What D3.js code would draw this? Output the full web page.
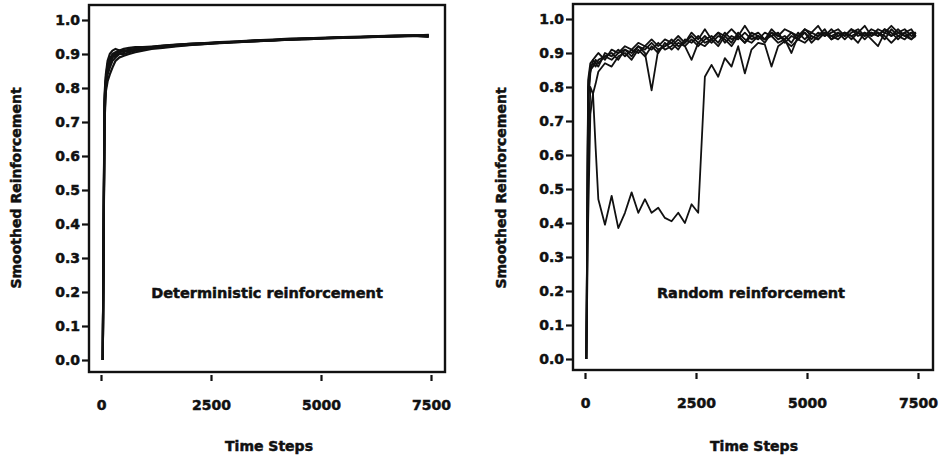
<!DOCTYPE html>
<html>
<head>
<meta charset="utf-8">
<script src="https://cdn.jsdelivr.net/npm/d3@7"></script>
<style>
  html, body { margin: 0; padding: 0; background: #fff; }
  svg { display: block; }
  text { font-family: "DejaVu Sans", sans-serif; font-weight: bold; fill: #111; stroke: #111; stroke-width: 0.5px; }
</style>
</head>
<body>
<svg id="chart" width="941" height="462"></svg>
<script>
// ---------- DATA ----------
const yTicks = [0, 0.1, 0.2, 0.3, 0.4, 0.5, 0.6, 0.7, 0.8, 0.9, 1.0];
const xTicks = [0, 2500, 5000, 7500];
const yLabel = "Smoothed Reinforcement";
const xLabel = "Time Steps";
const leftTitle = "Deterministic reinforcement";
const rightTitle = "Random reinforcement";

// Left panel (deterministic) time steps and series
const leftTime = [40, 80, 110, 150, 200, 260, 330, 420, 520, 640, 780, 950, 1150, 1400, 1700, 2000, 2350, 2700, 3100, 3500, 3900, 4300, 4700, 5100, 5500, 5900, 6300, 6700, 7100, 7450];
const leftS1 = [0, 0.78, 0.84, 0.88, 0.90, 0.91, 0.915, 0.91, 0.915, 0.918, 0.92, 0.92, 0.922, 0.925, 0.928, 0.93, 0.932, 0.935, 0.937, 0.94, 0.942, 0.945, 0.946, 0.948, 0.95, 0.951, 0.952, 0.954, 0.955, 0.955];
const leftS2 = [0, 0.74, 0.82, 0.86, 0.88, 0.90, 0.905, 0.91, 0.905, 0.915, 0.912, 0.918, 0.92, 0.922, 0.925, 0.928, 0.93, 0.934, 0.936, 0.938, 0.94, 0.943, 0.945, 0.947, 0.948, 0.95, 0.951, 0.952, 0.954, 0.952];
const leftS3 = [0, 0.70, 0.79, 0.82, 0.84, 0.86, 0.88, 0.89, 0.895, 0.90, 0.905, 0.91, 0.915, 0.918, 0.922, 0.926, 0.93, 0.932, 0.935, 0.937, 0.94, 0.942, 0.944, 0.946, 0.948, 0.949, 0.95, 0.952, 0.953, 0.95];
const leftS4 = [0, 0.76, 0.83, 0.87, 0.89, 0.895, 0.90, 0.905, 0.91, 0.91, 0.915, 0.915, 0.92, 0.924, 0.926, 0.93, 0.931, 0.934, 0.936, 0.939, 0.941, 0.943, 0.945, 0.947, 0.949, 0.95, 0.952, 0.953, 0.954, 0.956];
const leftS5 = [0, 0.72, 0.80, 0.84, 0.86, 0.88, 0.89, 0.90, 0.90, 0.905, 0.91, 0.912, 0.918, 0.92, 0.924, 0.927, 0.929, 0.933, 0.935, 0.938, 0.94, 0.942, 0.944, 0.946, 0.947, 0.949, 0.951, 0.952, 0.953, 0.954];
const leftS6 = [0, 0.75, 0.82, 0.85, 0.87, 0.89, 0.895, 0.905, 0.91, 0.908, 0.915, 0.917, 0.919, 0.923, 0.927, 0.929, 0.932, 0.933, 0.936, 0.94, 0.941, 0.944, 0.946, 0.947, 0.95, 0.95, 0.953, 0.954, 0.955, 0.953];

// Right panel (random) time steps and series
const rightTime = [30, 70, 120, 180, 240, 300, 450, 600, 750, 900, 1050, 1200, 1350, 1500, 1650, 1800, 1950, 2100, 2250, 2400, 2550, 2700, 2850, 3000, 3150, 3300, 3450, 3600, 3750, 3900, 4050, 4200, 4350, 4500, 4650, 4800, 4950, 5100, 5250, 5400, 5550, 5700, 5850, 6000, 6150, 6300, 6450, 6600, 6750, 6900, 7050, 7200, 7350, 7450];
const rightS1 = [0, 0.80, 0.86, 0.87, 0.86, 0.88, 0.89, 0.90, 0.88, 0.91, 0.90, 0.92, 0.90, 0.79, 0.91, 0.92, 0.93, 0.91, 0.94, 0.93, 0.95, 0.93, 0.94, 0.96, 0.93, 0.95, 0.94, 0.96, 0.94, 0.95, 0.93, 0.96, 0.95, 0.94, 0.96, 0.95, 0.97, 0.95, 0.94, 0.96, 0.95, 0.96, 0.94, 0.96, 0.97, 0.95, 0.96, 0.95, 0.97, 0.96, 0.94, 0.96, 0.97, 0.95];
const rightS2 = [0, 0.75, 0.84, 0.88, 0.87, 0.86, 0.90, 0.89, 0.91, 0.89, 0.91, 0.90, 0.92, 0.91, 0.93, 0.91, 0.92, 0.94, 0.92, 0.88, 0.93, 0.95, 0.93, 0.95, 0.94, 0.92, 0.95, 0.93, 0.96, 0.95, 0.94, 0.96, 0.94, 0.95, 0.93, 0.96, 0.94, 0.96, 0.95, 0.97, 0.94, 0.96, 0.95, 0.97, 0.95, 0.96, 0.94, 0.92, 0.96, 0.95, 0.97, 0.95, 0.96, 0.96];
const rightS3 = [0, 0.40, 0.72, 0.78, 0.81, 0.845, 0.87, 0.86, 0.89, 0.90, 0.88, 0.91, 0.89, 0.92, 0.90, 0.93, 0.91, 0.93, 0.92, 0.94, 0.92, 0.94, 0.95, 0.93, 0.96, 0.94, 0.95, 0.93, 0.95, 0.94, 0.96, 0.95, 0.93, 0.94, 0.90, 0.95, 0.96, 0.94, 0.96, 0.95, 0.97, 0.95, 0.96, 0.94, 0.96, 0.95, 0.97, 0.96, 0.94, 0.97, 0.95, 0.96, 0.94, 0.96];
const rightS4 = [0, 0.82, 0.87, 0.88, 0.89, 0.90, 0.88, 0.91, 0.90, 0.92, 0.91, 0.93, 0.92, 0.94, 0.92, 0.94, 0.93, 0.95, 0.93, 0.96, 0.94, 0.97, 0.94, 0.96, 0.95, 0.97, 0.95, 0.98, 0.95, 0.96, 0.94, 0.97, 0.95, 0.97, 0.96, 0.94, 0.97, 0.96, 0.98, 0.95, 0.96, 0.97, 0.95, 0.97, 0.96, 0.98, 0.95, 0.97, 0.96, 0.98, 0.96, 0.97, 0.95, 0.96];
const rightS5 = [0, 0.78, 0.85, 0.86, 0.88, 0.87, 0.89, 0.88, 0.90, 0.91, 0.89, 0.92, 0.91, 0.93, 0.91, 0.92, 0.94, 0.92, 0.93, 0.95, 0.93, 0.92, 0.94, 0.92, 0.95, 0.93, 0.96, 0.94, 0.93, 0.95, 0.94, 0.95, 0.96, 0.93, 0.95, 0.94, 0.96, 0.93, 0.95, 0.96, 0.94, 0.95, 0.96, 0.95, 0.93, 0.96, 0.95, 0.96, 0.95, 0.93, 0.95, 0.94, 0.96, 0.95];
const rightS6 = [0, 0.55, 0.80, 0.78, 0.62, 0.47, 0.395, 0.48, 0.385, 0.43, 0.49, 0.43, 0.47, 0.43, 0.445, 0.415, 0.405, 0.43, 0.40, 0.455, 0.43, 0.83, 0.865, 0.83, 0.885, 0.86, 0.92, 0.84, 0.91, 0.93, 0.925, 0.86, 0.92, 0.935, 0.92, 0.94, 0.93, 0.95, 0.94, 0.96, 0.95, 0.94, 0.96, 0.95, 0.96, 0.94, 0.96, 0.95, 0.97, 0.95, 0.96, 0.95, 0.94, 0.95];

const leftSeries = [leftS1, leftS2, leftS3, leftS4, leftS5, leftS6];
const rightSeries = [rightS1, rightS2, rightS3, rightS4, rightS5, rightS6];

// ---------- DRAW ----------
const svg = d3.select("#chart");

function panel(cfg) {
  const g = svg.append("g");
  const x = d3.scaleLinear().domain([0, 7500]).range([cfg.x0, cfg.x1]);
  const y = d3.scaleLinear().domain([0, 1]).range([cfg.y0, cfg.y1]);

  // frame
  g.append("rect")
    .attr("x", cfg.fx0).attr("y", cfg.fy0)
    .attr("width", cfg.fx1 - cfg.fx0).attr("height", cfg.fy1 - cfg.fy0)
    .attr("fill", "none").attr("stroke", "#111").attr("stroke-width", 2.4);

  // y axis
  const ya = g.append("g").attr("transform", `translate(${cfg.fx0},0)`)
    .call(d3.axisLeft(y).tickValues(yTicks).tickFormat(d3.format(".1f")).tickSize(7).tickPadding(2));
  ya.select(".domain").remove();
  ya.selectAll(".tick line").attr("stroke", "#111").attr("stroke-width", 2.2);
  ya.selectAll(".tick text").attr("font-size", 14).attr("font-family", "DejaVu Sans").attr("font-weight", "bold").attr("fill", "#111");

  // x axis (offset below frame)
  const xa = g.append("g").attr("transform", `translate(0,${cfg.fy1 + 3})`)
    .call(d3.axisBottom(x).tickValues(xTicks).tickFormat(d3.format("d")).tickSize(6).tickPadding(19));
  xa.select(".domain").remove();
  xa.selectAll(".tick line").attr("stroke", "#111").attr("stroke-width", 2.2);
  xa.selectAll(".tick text").attr("font-size", 14).attr("font-family", "DejaVu Sans").attr("font-weight", "bold").attr("fill", "#111");

  // lines
  const line = d3.line().x(d => x(d[0])).y(d => y(d[1]));
  cfg.series.forEach(s => {
    g.append("path")
      .datum(cfg.time.map((t, i) => [t, s[i]]))
      .attr("d", line)
      .attr("fill", "none").attr("stroke", "#111")
      .attr("stroke-width", cfg.sw).attr("stroke-linejoin", "round");
  });

  // annotation
  g.append("text").attr("x", cfg.annX).attr("y", cfg.annY)
    .attr("text-anchor", "middle").attr("font-size", 14.5).text(cfg.title);

  // axis titles
  g.append("text").attr("x", cfg.xlX).attr("y", 451)
    .attr("text-anchor", "middle").attr("font-size", 14).text(xLabel);
  g.append("text")
    .attr("transform", `translate(${cfg.ylX},${cfg.ylY}) rotate(-90)`)
    .attr("text-anchor", "middle").attr("font-size", 14).text(yLabel);
}

panel({
  x0: 101, x1: 431, y0: 360, y1: 20,
  fx0: 89, fx1: 445, fy0: 5, fy1: 372,
  time: leftTime, series: leftSeries, title: leftTitle, sw: 2.2,
  annX: 267, annY: 298, xlX: 269, ylX: 21, ylY: 188
});
panel({
  x0: 585, x1: 918, y0: 359, y1: 19,
  fx0: 573, fx1: 933, fy0: 4, fy1: 370,
  time: rightTime, series: rightSeries, title: rightTitle, sw: 1.8,
  annX: 751, annY: 298, xlX: 754, ylX: 506, ylY: 188
});
</script>
</body>
</html>
